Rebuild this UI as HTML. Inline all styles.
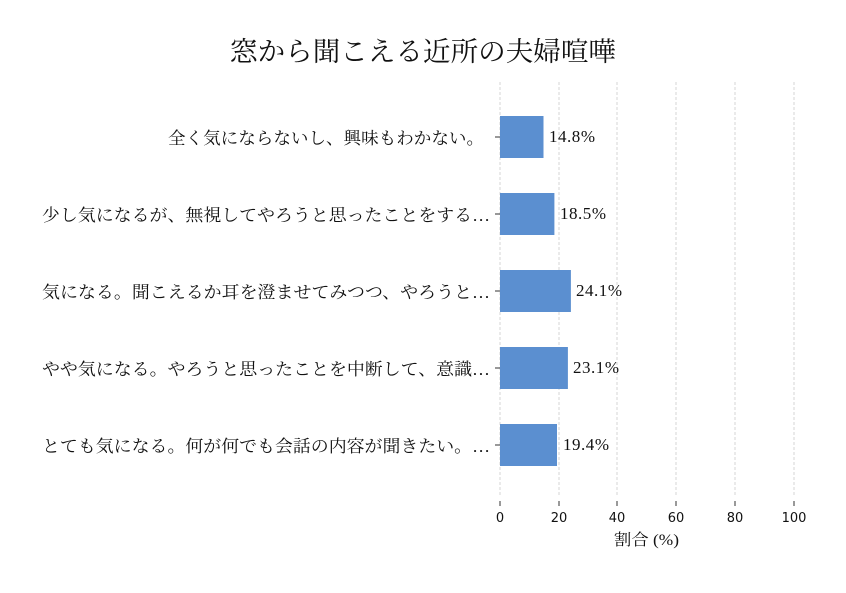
<!DOCTYPE html>
<html><head><meta charset="utf-8"><style>
body{margin:0;background:#fff;}
svg text{font-family:"Liberation Serif","Noto Serif CJK JP","Noto Serif CJK SC",serif;fill:#111;}
.t{font-family:"DejaVu Sans","Liberation Sans",sans-serif !important;}
</style></head><body>
<svg width="846" height="588" xmlns="http://www.w3.org/2000/svg">
<text x="230" y="61" font-size="27" textLength="386" lengthAdjust="spacingAndGlyphs">窓から聞こえる近所の夫婦喧嘩</text>
<g stroke="#ccc" stroke-width="0.8" stroke-dasharray="3,2">
<line x1="500" y1="82" x2="500" y2="497"/><line x1="559" y1="82" x2="559" y2="497"/>
<line x1="617" y1="82" x2="617" y2="497"/><line x1="676" y1="82" x2="676" y2="497"/>
<line x1="735" y1="82" x2="735" y2="497"/><line x1="794" y1="82" x2="794" y2="497"/>
</g>
<g fill="#5b8fd0">
<rect x="500" y="116" width="43.5" height="42"/>
<rect x="500" y="193" width="54.4" height="42"/>
<rect x="500" y="270" width="70.9" height="42"/>
<rect x="500" y="347" width="67.9" height="42"/>
<rect x="500" y="424" width="57" height="42"/>
</g>
<g font-size="17">
<text x="549" y="142" textLength="46">14.8%</text>
<text x="560" y="219" textLength="46">18.5%</text>
<text x="576" y="296" textLength="46">24.1%</text>
<text x="573" y="373" textLength="46">23.1%</text>
<text x="563" y="450" textLength="46">19.4%</text>
</g>
<g stroke="#333" stroke-width="1">
<line x1="495" y1="137" x2="500" y2="137"/><line x1="495" y1="214" x2="500" y2="214"/>
<line x1="495" y1="291" x2="500" y2="291"/><line x1="495" y1="368" x2="500" y2="368"/>
<line x1="495" y1="445" x2="500" y2="445"/>
<line x1="500" y1="501" x2="500" y2="506"/><line x1="559" y1="501" x2="559" y2="506"/>
<line x1="617" y1="501" x2="617" y2="506"/><line x1="676" y1="501" x2="676" y2="506"/>
<line x1="735" y1="501" x2="735" y2="506"/><line x1="794" y1="501" x2="794" y2="506"/>
</g>
<g font-size="17" lengthAdjust="spacingAndGlyphs">
<text x="168" y="144" textLength="316" lengthAdjust="spacingAndGlyphs">全く気にならないし、興味もわかない。</text>
<text x="42" y="221" textLength="448" lengthAdjust="spacingAndGlyphs">少し気になるが、無視してやろうと思ったことをする…</text>
<text x="42" y="298" textLength="448" lengthAdjust="spacingAndGlyphs">気になる。聞こえるか耳を澄ませてみつつ、やろうと…</text>
<text x="42" y="375" textLength="448" lengthAdjust="spacingAndGlyphs">やや気になる。やろうと思ったことを中断して、意識…</text>
<text x="42" y="452" textLength="448" lengthAdjust="spacingAndGlyphs">とても気になる。何が何でも会話の内容が聞きたい。…</text>
</g>
<g class="t" font-size="13" text-anchor="middle">
<text class="t" x="500" y="522">0</text><text class="t" x="559" y="522">20</text>
<text class="t" x="617" y="522">40</text><text class="t" x="676" y="522">60</text>
<text class="t" x="735" y="522">80</text><text class="t" x="794" y="522">100</text>
</g>
<text x="614" y="545" font-size="16" textLength="65" lengthAdjust="spacingAndGlyphs">割合 (%)</text>
</svg>
</body></html>
